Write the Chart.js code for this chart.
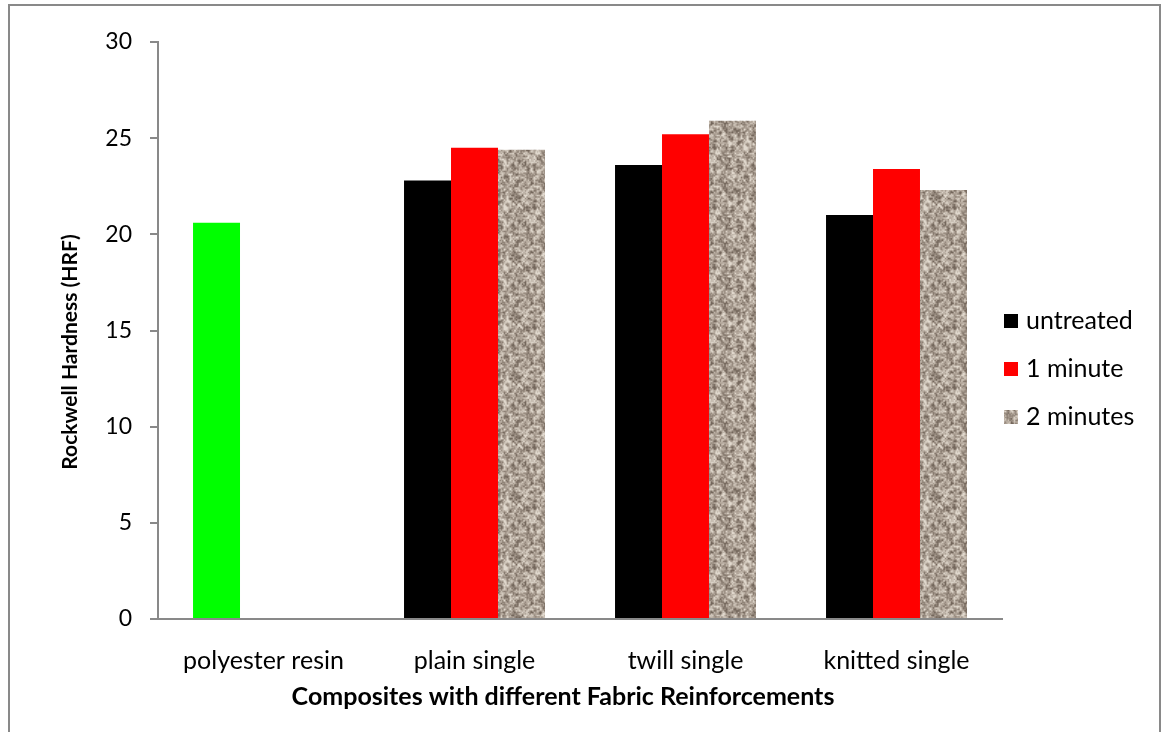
<!DOCTYPE html>
<html>
<head>
<meta charset="utf-8">
<script src="https://cdn.jsdelivr.net/npm/chart.js@4"></script>
<style>
  html, body { margin: 0; padding: 0; background: #fff; overflow: hidden; }
  #frame { position: absolute; left: 8px; top: 4px; width: 1149px; height: 760px; border: 2px solid #898989; }
  #c { position: absolute; left: 0; top: 0; }
</style>
</head>
<body>
<div id="frame"></div>
<canvas id="c" width="1161" height="732"></canvas>
<script>
// Rockwell hardness of polyester composites by fabric reinforcement and treatment time
const categories = ['polyester resin', 'plain single', 'twill single', 'knitted single'];
const seriesNames = ['untreated', '1 minute', '2 minutes'];
const untreated = [20.6, 22.8, 23.6, 21.0];
const oneMinute = [null, 24.5, 25.2, 23.4];
const twoMinutes = [null, 24.4, 25.9, 22.3];
const yTicks = [0, 5, 10, 15, 20, 25, 30];
const yTitle = 'Rockwell Hardness (HRF)';
const xTitle = 'Composites with different Fabric Reinforcements';

const FONT = 'Lato, "Open Sans", sans-serif';

// Granite-like speckle fill used for the "2 minutes" bars
function makeSpeckle() {
  const size = 60;
  const cv = document.createElement('canvas');
  cv.width = cv.height = size;
  const g = cv.getContext('2d');
  const img = g.createImageData(size, size);
  let seed = 20240611;
  const rnd = () => { seed = (seed * 1103515245 + 12345) & 0x7fffffff; return seed / 0x7fffffff; };
  function grid(n) { const a = []; for (let i = 0; i < n * n; i++) a.push(rnd()); return a; }
  function sample(arr, n, cell, x, y) {
    const gx = x / cell, gy = y / cell;
    const x0 = Math.floor(gx), y0 = Math.floor(gy);
    const fx = gx - x0, fy = gy - y0;
    const sx = fx * fx * (3 - 2 * fx), sy = fy * fy * (3 - 2 * fy);
    const at = (i, j) => arr[((j % n + n) % n) * n + ((i % n + n) % n)];
    const a = at(x0, y0), b = at(x0 + 1, y0), c = at(x0, y0 + 1), d = at(x0 + 1, y0 + 1);
    return (a * (1 - sx) + b * sx) * (1 - sy) + (c * (1 - sx) + d * sx) * sy;
  }
  const coarse = grid(20), fine = grid(40);
  const dark = [116, 103, 92], mid = [174, 162, 150], light = [224, 216, 205];
  for (let y = 0; y < size; y++) {
    for (let x = 0; x < size; x++) {
      let v = 0.55 * sample(coarse, 20, 3, x, y) + 0.45 * sample(fine, 40, 1.5, x, y);
      v = Math.min(1, Math.max(0, (v - 0.5) * 1.6 + 0.5));
      let col;
      if (v < 0.5) { const t = v / 0.5; col = dark.map((d, k) => d + (mid[k] - d) * t); }
      else { const t = (v - 0.5) / 0.5; col = mid.map((m, k) => m + (light[k] - m) * t); }
      const p = (y * size + x) * 4;
      img.data[p] = col[0]; img.data[p + 1] = col[1]; img.data[p + 2] = col[2]; img.data[p + 3] = 255;
    }
  }
  g.putImageData(img, 0, 0);
  return g.createPattern(cv, 'repeat');
}

const ctx = document.getElementById('c').getContext('2d');
const speckle = makeSpeckle();
const resinColor = '#00ff00';
const seriesColors = ['#000000', '#ff0000', speckle];
const axisGrey = '#898989';

// Axis titles and right-hand legend
const decorations = {
  id: 'decorations',
  afterDraw(chart) {
    const c = chart.ctx;
    c.save();
    c.fillStyle = '#000';
    c.textAlign = 'center';
    c.textBaseline = 'middle';
    c.font = 'bold 25px ' + FONT;
    c.fillText(xTitle, 563, 697);
    c.font = 'bold 21px ' + FONT;
    c.translate(70, 352);
    c.rotate(-Math.PI / 2);
    c.fillText(yTitle, 0, 0);
    c.restore();

    c.save();
    c.font = '25px ' + FONT;
    c.textBaseline = 'middle';
    c.textAlign = 'left';
    chart.data.datasets.forEach((ds, i) => {
      const cy = 321 + i * 48;
      c.fillStyle = seriesColors[i];
      c.fillRect(1004, cy - 7, 14, 14);
      c.fillStyle = '#000';
      c.fillText(ds.label, 1026, cy);
    });
    c.restore();
  }
};

new Chart(ctx, {
  type: 'bar',
  data: {
    labels: categories,
    datasets: [
      { label: seriesNames[0], data: untreated,
        backgroundColor: untreated.map((v, i) => i === 0 ? resinColor : seriesColors[0]) },
      { label: seriesNames[1], data: oneMinute, backgroundColor: seriesColors[1] },
      { label: seriesNames[2], data: twoMinutes, backgroundColor: seriesColors[2] }
    ]
  },
  options: {
    responsive: false,
    animation: false,
    layout: { padding: { left: 0, right: 159, top: 42, bottom: 0 } },
    datasets: { bar: { categoryPercentage: 0.668, barPercentage: 1.0, borderWidth: 0 } },
    plugins: { legend: { display: false }, tooltip: { enabled: false } },
    scales: {
      x: {
        grid: { display: false, drawTicks: false },
        border: { display: true, color: axisGrey, width: 2 },
        ticks: { color: '#000', font: { family: FONT, size: 25 }, padding: 27 },
        afterFit(s) { s.height = 113; }
      },
      y: {
        min: 0, max: 30,
        afterBuildTicks(s) { s.ticks = yTicks.map(v => ({ value: v })); },
        grid: { drawOnChartArea: false, drawTicks: true, tickLength: 8, color: axisGrey, lineWidth: 2 },
        border: { display: true, color: axisGrey, width: 2 },
        ticks: { color: '#000', font: { family: FONT, size: 23 }, padding: 18 },
        afterFit(s) { s.width = 158; }
      }
    }
  },
  plugins: [decorations]
});
</script>
</body>
</html>
